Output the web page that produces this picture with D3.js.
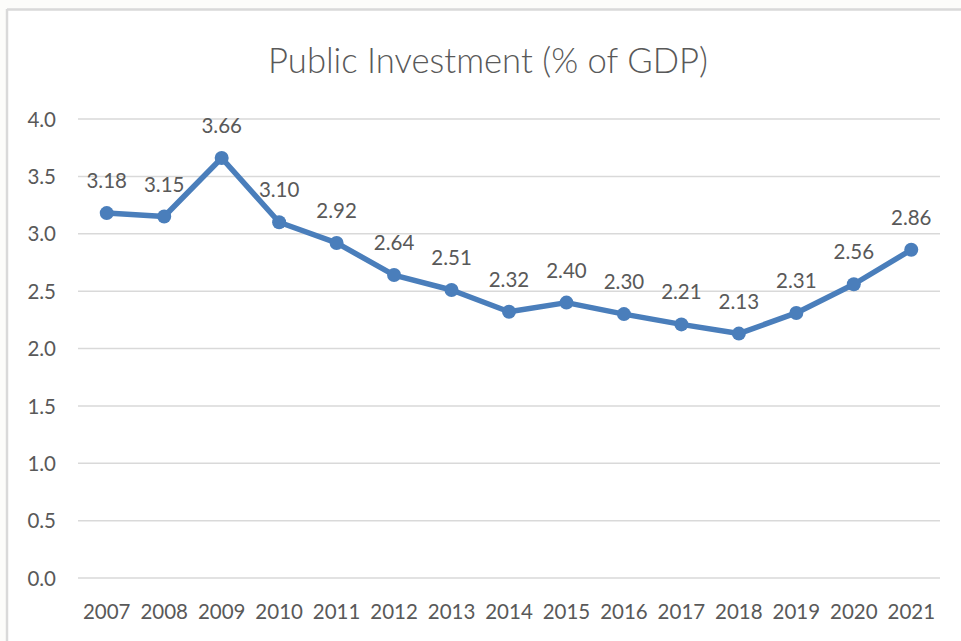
<!DOCTYPE html>
<html><head><meta charset="utf-8">
<script src="https://cdn.jsdelivr.net/npm/d3@7"></script>
<style>
html,body{margin:0;padding:0;background:#fcfcfa;}
svg{display:block;}
text{font-family:Lato,"Open Sans",sans-serif;fill:#595959;}
</style></head>
<body>
<script>
const years = ["2007","2008","2009","2010","2011","2012","2013","2014","2015","2016","2017","2018","2019","2020","2021"];
const values = [3.18,3.15,3.66,3.10,2.92,2.64,2.51,2.32,2.40,2.30,2.21,2.13,2.31,2.56,2.86];
const yTicks = [0,0.5,1.0,1.5,2.0,2.5,3.0,3.5,4.0];
const title = "Public Investment (% of GDP)";

(function(){
const W = 961, H = 641;
const FS = "20.5px";
const svg = d3.select("body").append("svg").attr("width", W).attr("height", H);

// chart frame
svg.append("rect").attr("x", 7).attr("y", 9).attr("width", W).attr("height", H).attr("fill", "#ffffff");
svg.append("line").attr("x1", 7).attr("x2", W).attr("y1", 9.5).attr("y2", 9.5).attr("stroke", "#d9d9d9").attr("stroke-width", 2.5);
svg.append("line").attr("x1", 7).attr("x2", 7).attr("y1", 9).attr("y2", H).attr("stroke", "#d9d9d9").attr("stroke-width", 2.5);

const pLeft = 78, pRight = 940, pTop = 119, pBottom = 578;
const x = d3.scaleBand().domain(years).range([pLeft, pRight]);
const y = d3.scaleLinear().domain([0, 4]).range([pBottom, pTop]);

// gridlines
svg.append("g").selectAll("line").data(yTicks).join("line")
  .attr("x1", pLeft).attr("x2", pRight)
  .attr("y1", d => y(d)).attr("y2", d => y(d))
  .attr("stroke", "#d9d9d9").attr("stroke-width", 1.5);

// y axis
const yAxis = d3.axisLeft(y).tickValues(yTicks).tickFormat(d3.format(".1f")).tickSize(0).tickPadding(0);
const gy = svg.append("g").attr("transform", `translate(56,0)`).call(yAxis);
gy.select(".domain").remove();
gy.selectAll("text").style("font-size", FS).style("font-family", "Lato, 'Open Sans', sans-serif").attr("fill", "#595959").attr("dy", "0.35em");

// x axis
const xAxis = d3.axisBottom(x).tickSize(0).tickPadding(0);
const gx = svg.append("g").attr("transform", `translate(0,612)`).call(xAxis);
gx.select(".domain").remove();
gx.selectAll("text").style("font-size", FS).style("font-family", "Lato, 'Open Sans', sans-serif").attr("fill", "#595959").attr("dy", "0.35em");

const cx = d => x(d) + x.bandwidth() / 2;
const pts = years.map((yr, i) => ({yr, v: values[i]}));

// line
svg.append("path").datum(pts)
  .attr("d", d3.line().x(d => cx(d.yr)).y(d => y(d.v)))
  .attr("fill", "none").attr("stroke", "#4a7ebb").attr("stroke-width", 5.5)
  .attr("stroke-linejoin", "round");

// markers
svg.append("g").selectAll("circle").data(pts).join("circle")
  .attr("cx", d => cx(d.yr)).attr("cy", d => y(d.v)).attr("r", 7)
  .attr("fill", "#4a7ebb");

// data labels
svg.append("g").selectAll("text").data(pts).join("text")
  .attr("x", d => cx(d.yr)).attr("y", d => y(d.v) - 25)
  .attr("text-anchor", "middle").style("font-size", FS)
  .text(d => d.v.toFixed(2));

// title
const t = svg.append("text").attr("x", 488).attr("y", 73).attr("text-anchor", "middle")
  .style("font-size", "30px").style("font-weight", "300").text(title);
const len = t.node().getComputedTextLength();
t.style("font-size", (30 * 440 / len).toFixed(2) + "px");
})();
</script>
</body></html>
